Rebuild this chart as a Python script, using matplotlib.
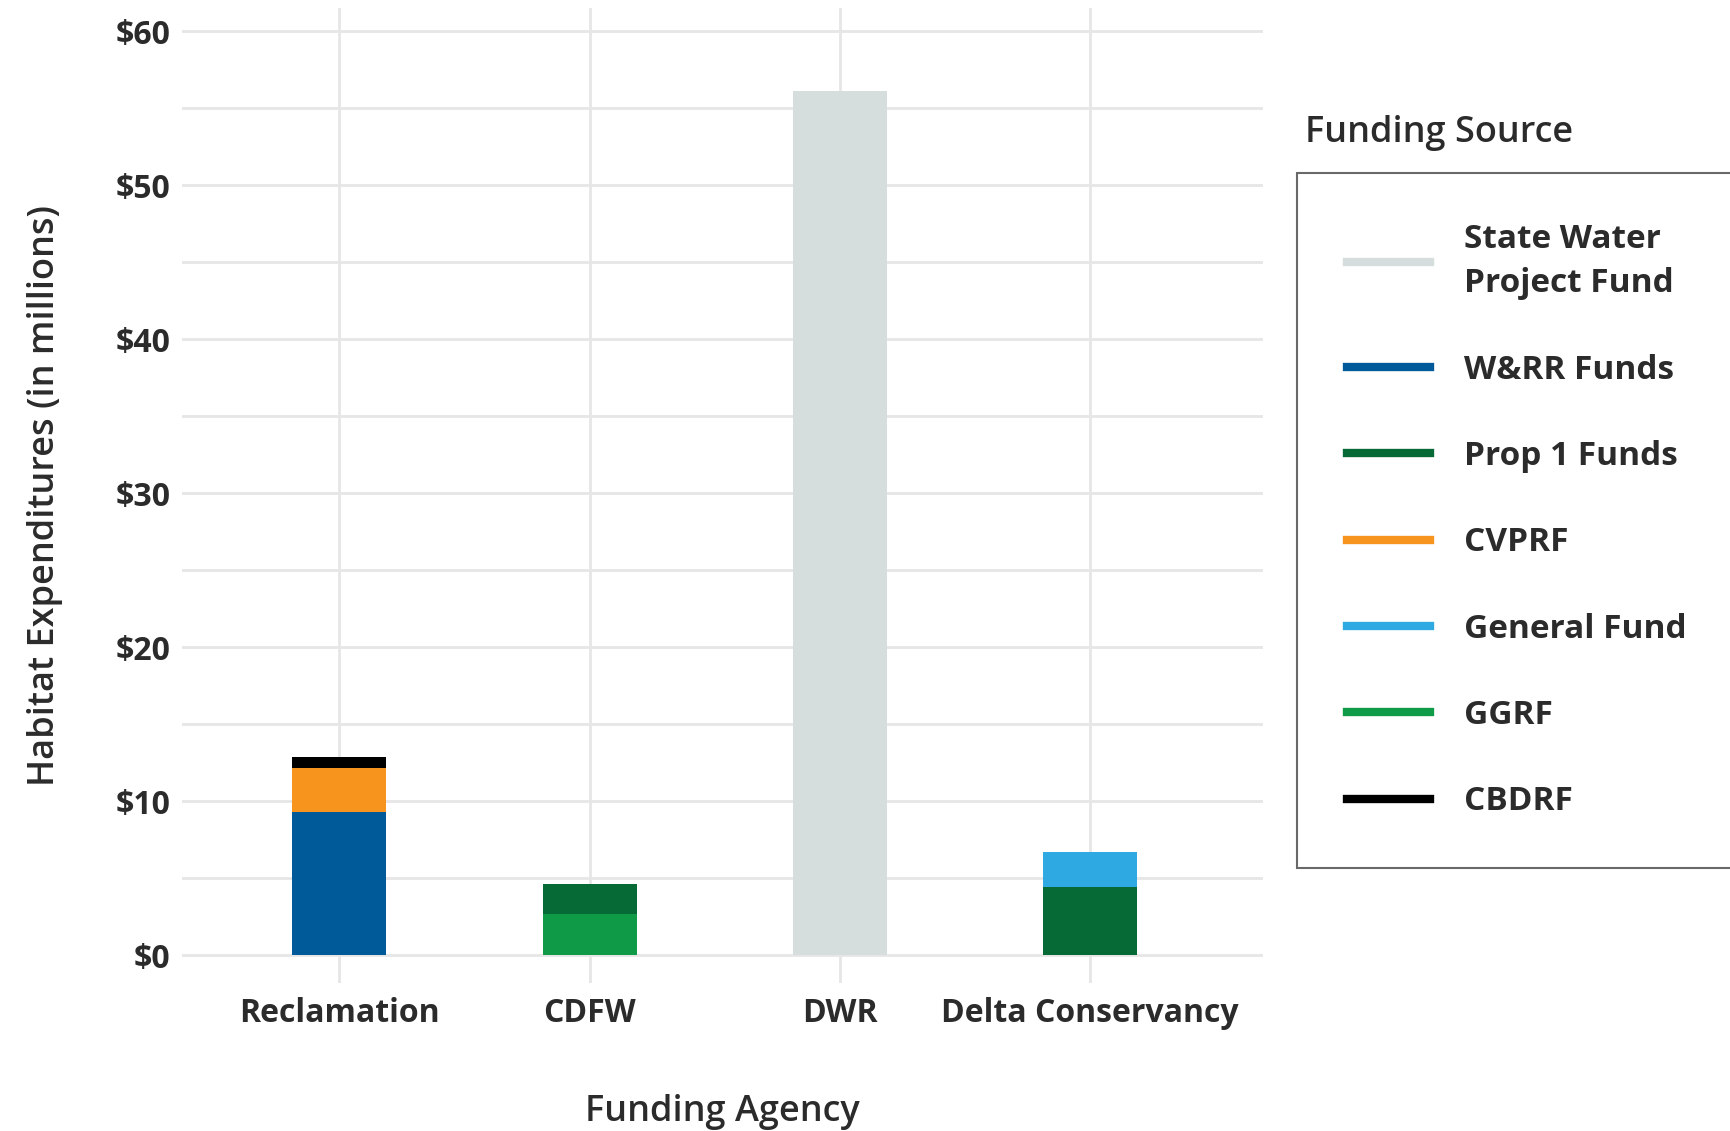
import matplotlib.pyplot as plt
from matplotlib.lines import Line2D
import numpy as np

agencies = ['Reclamation', 'CDFW', 'DWR', 'Delta Conservancy']

# values in millions, one per agency
swp = [0, 0, 56.1, 0]
wrr = [9.3, 0, 0, 0]
cvprf = [2.85, 0, 0, 0]
cbdrf = [0.7, 0, 0, 0]
ggrf = [0, 2.65, 0, 0]
prop1 = [0, 1.95, 0, 4.4]
general = [0, 0, 0, 2.3]

colors = {
    'State Water\nProject Fund': '#D5DEDC',
    'W&RR Funds': '#005A9A',
    'Prop 1 Funds': '#066A36',
    'CVPRF': '#F7941E',
    'General Fund': '#2EA9E1',
    'GGRF': '#0E9A47',
    'CBDRF': '#000000',
}

# stacking order, bottom to top
stack = [
    ('State Water\nProject Fund', swp),
    ('W&RR Funds', wrr),
    ('CVPRF', cvprf),
    ('CBDRF', cbdrf),
    ('GGRF', ggrf),
    ('Prop 1 Funds', prop1),
    ('General Fund', general),
]

yticks = [0, 10, 20, 30, 40, 50, 60]
ytick_labels = ['$0', '$10', '$20', '$30', '$40', '$50', '$60']

plt.rcParams['font.family'] = ['Open Sans', 'DejaVu Sans']

fig = plt.figure(figsize=(17.3, 11.31), dpi=100)
ax = fig.add_axes([0.105, 0.131, 0.625, 0.862])

x = np.arange(len(agencies))
bottom = np.zeros(len(agencies))
for name, vals in stack:
    vals = np.array(vals)
    ax.bar(x, vals, width=0.375, bottom=bottom, color=colors[name], zorder=3)
    bottom += vals

ax.set_xlim(-0.63, 3.69)
ax.set_ylim(-1.8, 61.5)
ax.set_yticks(yticks)
ax.set_yticklabels(ytick_labels)
ax.set_yticks(np.arange(5, 60, 10), minor=True)
ax.set_xticks(x)
ax.set_xticklabels(agencies)

ax.grid(True, which='both', axis='y', color='#E6E6E6', linewidth=2, zorder=0)
ax.grid(True, axis='x', color='#E6E6E6', linewidth=2, zorder=0)
for s in ax.spines.values():
    s.set_visible(False)
ax.tick_params(which='both', length=0)
ax.tick_params(axis='y', pad=8)
ax.tick_params(axis='x', pad=10)
for lbl in ax.get_xticklabels() + ax.get_yticklabels():
    lbl.set_fontsize(23)
    lbl.set_fontweight('bold')
    lbl.set_color('#2B2B2B')

ax.set_ylabel('Habitat Expenditures (in millions)', fontsize=26,
              fontweight='semibold', color='#2B2B2B', labelpad=38)
ax.set_xlabel('Funding Agency', fontsize=26, fontweight='semibold', color='#2B2B2B', labelpad=46)

handles = [Line2D([0], [0], color=c, linewidth=6) for c in colors.values()]
leg = fig.legend(handles, list(colors.keys()), loc='upper left',
                 bbox_to_anchor=(1297 / 1730, 1 - 173 / 1131),
                 frameon=True, fancybox=False, fontsize=24, handlelength=2.5,
                 handletextpad=1.0, labelspacing=1.6, borderpad=1.5,
                 borderaxespad=0)
leg.get_frame().set_edgecolor('#444444')
leg.get_frame().set_linewidth(1.5)
for t in leg.get_texts():
    t.set_fontweight('bold')
    t.set_color('#2B2B2B')
    t.set_linespacing(1.45)

fig.text(1305 / 1730, 1 - 133 / 1131, 'Funding Source', fontsize=26,
         fontweight='semibold', color='#2B2B2B', va='center')

fig.savefig('out.png')
